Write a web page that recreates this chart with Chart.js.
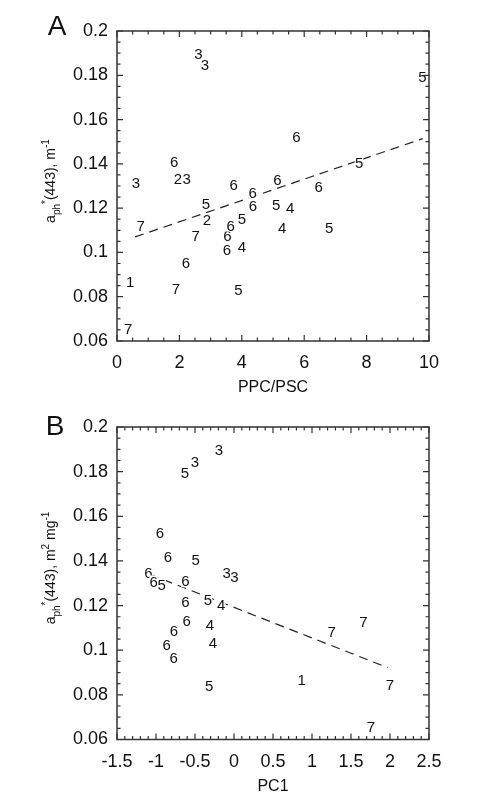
<!DOCTYPE html>
<html>
<head>
<meta charset="utf-8">
<script src="https://cdn.jsdelivr.net/npm/chart.js@4.4.0/dist/chart.umd.min.js"></script>
<style>
  body { margin: 0; background: #fff; }
  canvas { display: block; }
</style>
</head>
<body>
<canvas id="chartA" width="478" height="400"></canvas>
<canvas id="chartB" width="478" height="403"></canvas>
<script>
// Panel A: aph*(443) against PPC/PSC, every point drawn as its group number
const ppcPsc = [2.61, 2.82, 9.79, 5.75, 1.83, 1.95, 2.23, 0.61, 3.74, 5.14, 4.35, 7.76, 6.46,
                2.85, 4.36, 5.10, 5.55, 4.00, 2.88, 3.54, 3.52, 3.64, 0.76, 5.29, 6.80, 2.52,
                4.00, 2.21, 0.42, 1.89, 3.89, 0.36];
const aphA = [0.1898, 0.1850, 0.1792, 0.1522, 0.1409, 0.1334, 0.1334, 0.1316, 0.1305, 0.1331, 0.1272, 0.1404, 0.1299,
              0.1220, 0.1213, 0.1218, 0.1202, 0.1155, 0.1149, 0.1078, 0.1015, 0.1123, 0.1119, 0.1110, 0.1110, 0.1078,
              0.1028, 0.0955, 0.0867, 0.0838, 0.0834, 0.0657];
const groupA = ['3', '3', '5', '6', '6', '2', '3', '3', '6', '6', '6', '5', '6',
                '5', '6', '5', '4', '5', '2', '6', '6', '6', '7', '4', '5', '7',
                '4', '6', '1', '7', '5', '7'];
const fitAX = [0.58, 9.8];
const fitAY = [0.107, 0.1514];

// Panel B: aph*(443) against PC1
const pc1 = [-0.192, -0.5, -0.628, -0.949, -0.846, -0.491, -0.094, 0.004, -1.096, -1.03, -0.927, -0.622, -0.622,
             -0.333, -0.163, -0.606, -0.308, -0.769, -0.269, -0.863, -0.773, -0.317, 1.253, 1.658, 0.868, 2.0, 1.756];
const aphB = [0.1897, 0.1845, 0.1795, 0.1526, 0.1418, 0.1404, 0.1346, 0.1331, 0.1348, 0.1306, 0.1294, 0.1311, 0.1219,
              0.1226, 0.1206, 0.1133, 0.1116, 0.1088, 0.1036, 0.1024, 0.0965, 0.0840, 0.1083, 0.1128, 0.0870, 0.0844, 0.0660];
const groupB = ['3', '3', '5', '6', '6', '5', '3', '3', '6', '6', '5', '6', '6',
                '5', '4', '6', '4', '6', '4', '6', '6', '5', '7', '7', '1', '7', '7'];
const fitBX = [-1.08, 1.97];
const fitBY = [0.134, 0.0922];

// axis ticks
const yTicks = [0.06, 0.08, 0.1, 0.12, 0.14, 0.16, 0.18, 0.2];
const xTicksA = [0, 2, 4, 6, 8, 10];
const xTicksB = [-1.5, -1, -0.5, 0, 0.5, 1, 1.5, 2, 2.5];

const FONT = "'Liberation Sans', Arial, sans-serif";
Chart.defaults.font.family = FONT;
Chart.defaults.color = '#111';

// group numbers written at each point, on a white patch
const groupLabels = {
    id: 'groupLabels',
    afterDatasetsDraw(chart, args, opts) {
        let ctx = chart.ctx;
        let meta = chart.getDatasetMeta(0);
        ctx.save();
        ctx.font = '15px ' + FONT;
        ctx.textAlign = 'center';
        ctx.textBaseline = 'alphabetic';
        meta.data.forEach((pt, i) => {
            let t = opts.labels[i];
            let w = ctx.measureText(t).width;
            ctx.fillStyle = '#fff';
            ctx.fillRect(pt.x - w / 2, pt.y - 6.5, w, 13);
            ctx.fillStyle = '#111';
            ctx.fillText(t, pt.x, pt.y + 5.4);
        });
        ctx.restore();
    }
};

// box frame with inward major/minor ticks on all four sides
const frameTicks = {
    id: 'frameTicks',
    afterDraw(chart, args, opts) {
        let {ctx, chartArea: a, scales: {x, y}} = chart;
        ctx.save();
        ctx.strokeStyle = '#333';
        ctx.lineWidth = 1.2;
        ctx.beginPath();
        let nx = Math.round((x.max - x.min) / opts.xMinor);
        for (let i = 0; i <= nx; i++) {
            let v = x.min + i * opts.xMinor;
            let len = opts.xMajor.some(m => Math.abs(m - v) < 1e-6) ? 6 : 3.5;
            let px = x.getPixelForValue(v);
            ctx.moveTo(px, a.bottom); ctx.lineTo(px, a.bottom - len);
            ctx.moveTo(px, a.top); ctx.lineTo(px, a.top + len);
        }
        let ny = Math.round((y.max - y.min) / opts.yMinor);
        for (let i = 0; i <= ny; i++) {
            let v = y.min + i * opts.yMinor;
            let len = yTicks.some(m => Math.abs(m - v) < 1e-6) ? 6 : 3.5;
            let py = y.getPixelForValue(v);
            ctx.moveTo(a.left, py); ctx.lineTo(a.left + len, py);
            ctx.moveTo(a.right, py); ctx.lineTo(a.right - len, py);
        }
        ctx.stroke();
        ctx.lineWidth = 1.5;
        ctx.strokeRect(a.left, a.top, a.right - a.left, a.bottom - a.top);
        ctx.restore();
    }
};

// rotated y title with sub/superscripts, plus the panel letter
const yTitle = {
    id: 'yTitle',
    afterDraw(chart, args, opts) {
        let ctx = chart.ctx;
        let fontOf = p => ((p.sub || p.sup) ? '10px ' : '14px ') + FONT;
        ctx.save();
        let total = 0;
        opts.parts.forEach(p => { ctx.font = fontOf(p); total += ctx.measureText(p.t).width; });
        ctx.translate(opts.x, opts.cy);
        ctx.rotate(-Math.PI / 2);
        ctx.fillStyle = '#111';
        ctx.textBaseline = 'alphabetic';
        let pos = -total / 2;
        opts.parts.forEach(p => {
            ctx.font = fontOf(p);
            ctx.fillText(p.t, pos, p.sub ? 4.5 : (p.sup ? -6 : 0));
            pos += ctx.measureText(p.t).width;
        });
        ctx.restore();

        ctx.save();
        ctx.font = '28px ' + FONT;
        ctx.fillStyle = '#111';
        ctx.textAlign = 'center';
        ctx.fillText(opts.letter, opts.lx, opts.ly + 10);
        ctx.restore();
    }
};

function makePanel(id, xs, ys, groups, fitX, fitY, cfg) {
    return new Chart(document.getElementById(id), {
        type: 'scatter',
        data: {
            datasets: [{
                data: xs.map((v, i) => ({x: v, y: ys[i]})),
                pointRadius: 0
            }, {
                type: 'line',
                data: fitX.map((v, i) => ({x: v, y: fitY[i]})),
                borderColor: '#222',
                borderWidth: 1.2,
                borderDash: [9, 6],
                pointRadius: 0,
                fill: false
            }]
        },
        options: {
            responsive: false,
            animation: false,
            events: [],
            layout: {padding: {left: 57, right: 49, top: cfg.top, bottom: 0}},
            plugins: {
                legend: {display: false},
                tooltip: {enabled: false},
                groupLabels: {labels: groups},
                frameTicks: {xMinor: cfg.xMinor, xMajor: cfg.xTicks, yMinor: 0.005},
                yTitle: {parts: cfg.yParts, x: 55, cy: cfg.titleY, letter: cfg.letter, lx: cfg.lx, ly: 25}
            },
            scales: {
                x: {
                    type: 'linear',
                    min: cfg.xTicks[0],
                    max: cfg.xTicks[cfg.xTicks.length - 1],
                    afterBuildTicks: s => { s.ticks = cfg.xTicks.map(v => ({value: v})); },
                    afterFit: s => { s.height = cfg.xHeight; },
                    grid: {display: false, drawTicks: false},
                    border: {display: false},
                    ticks: {font: {size: 18}, padding: 11.5, autoSkip: false, maxRotation: 0, callback: v => String(v)},
                    title: {display: true, text: cfg.xTitle, font: {size: 16}, padding: {top: 0, bottom: cfg.titlePad}}
                },
                y: {
                    type: 'linear',
                    min: 0.06,
                    max: 0.2,
                    afterBuildTicks: s => { s.ticks = yTicks.map(v => ({value: v})); },
                    afterFit: s => { s.width = 60; },
                    grid: {display: false, drawTicks: false},
                    border: {display: false},
                    ticks: {font: {size: 18}, padding: 9, autoSkip: false, callback: v => String(v)}
                }
            }
        },
        plugins: [groupLabels, frameTicks, yTitle]
    });
}

makePanel('chartA', ppcPsc, aphA, groupA, fitAX, fitAY, {
    top: 31, xHeight: 59, titlePad: 2.4, xTicks: xTicksA, xMinor: 0.5, xTitle: 'PPC/PSC',
    titleY: 181, letter: 'A', lx: 57,
    yParts: [{t: 'a'}, {t: 'ph', sub: true}, {t: '*', sup: true}, {t: '(443), m'}, {t: '-1', sup: true}]
});

makePanel('chartB', pc1, aphB, groupB, fitBX, fitBY, {
    top: 27, xHeight: 63.5, titlePad: 6.4, xTicks: xTicksB, xMinor: 0.1, xTitle: 'PC1',
    titleY: 168, letter: 'B', lx: 55,
    yParts: [{t: 'a'}, {t: 'ph', sub: true}, {t: '*', sup: true}, {t: '(443), m'}, {t: '2', sup: true},
             {t: ' mg'}, {t: '-1', sup: true}]
});
</script>
</body>
</html>
